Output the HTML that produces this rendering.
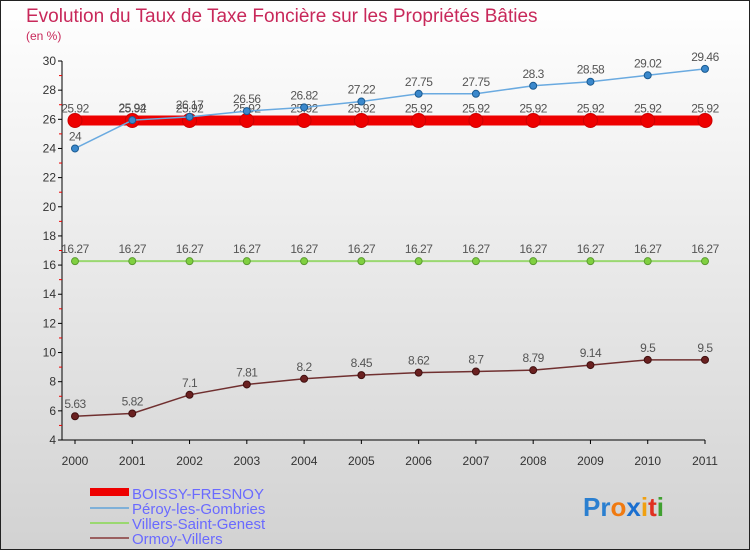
<!DOCTYPE html>
<html><head><meta charset="utf-8"><style>
body{margin:0}
#c{width:750px;height:550px;position:relative;overflow:hidden;font-family:"Liberation Sans",sans-serif}
</style></head><body>
<div id="c">
<svg id="s" width="750" height="550" xmlns="http://www.w3.org/2000/svg">
<defs><linearGradient id="bg" x1="0" y1="0" x2="0" y2="1"><stop offset="0" stop-color="#ffffff"/><stop offset="1" stop-color="#d2d2d2"/></linearGradient></defs>
<rect x="0.5" y="0.5" width="749" height="549" fill="url(#bg)" stroke="#222"/>
<text x="26" y="22" font-size="19" fill="#c8285a">Evolution du Taux de Taxe Foncière sur les Propriétés Bâties</text>
<text x="26" y="40" font-size="12" fill="#c8285a">(en %)</text>
<g id="axes"></g><g id="series"></g>
<g>
<rect x="90" y="488" width="39" height="8" fill="#e00"/>
<text x="132" y="499" font-size="15" fill="#6a6aff">BOISSY-FRESNOY</text>
<line x1="90" y1="508" x2="129" y2="508" stroke="#7fb0d8" stroke-width="2"/>
<text x="132" y="514" font-size="15" fill="#6a6aff">Péroy-les-Gombries</text>
<line x1="90" y1="523" x2="129" y2="523" stroke="#9ad870" stroke-width="2"/>
<text x="132" y="529" font-size="15" fill="#6a6aff">Villers-Saint-Genest</text>
<line x1="90" y1="538" x2="129" y2="538" stroke="#9a6060" stroke-width="2"/>
<text x="132" y="544" font-size="15" fill="#6a6aff">Ormoy-Villers</text>
</g>
<text x="583" y="516" font-size="26" font-weight="bold"><tspan fill="#2a7fd0">Pr</tspan><tspan fill="#f07a10">o</tspan><tspan fill="#1a6fd0">x</tspan><tspan fill="#f0a010">i</tspan><tspan fill="#e03020">t</tspan><tspan fill="#40a030">i</tspan></text>
</svg>
</div>
<script>
const years=[2000,2001,2002,2003,2004,2005,2006,2007,2008,2009,2010,2011];
const boissy=[25.92,25.92,25.92,25.92,25.92,25.92,25.92,25.92,25.92,25.92,25.92,25.92];
const peroy=[24,25.94,26.17,26.56,26.82,27.22,27.75,27.75,28.3,28.58,29.02,29.46];
const villers=[16.27,16.27,16.27,16.27,16.27,16.27,16.27,16.27,16.27,16.27,16.27,16.27];
const ormoy=[5.63,5.82,7.1,7.81,8.2,8.45,8.62,8.7,8.79,9.14,9.5,9.5];
const yTicks=[4,6,8,10,12,14,16,18,20,22,24,26,28,30];
const NS="http://www.w3.org/2000/svg";
const x=i=>75+i*(630/11);
const y=v=>440-(v-4)*(379/26);
function mk(tag,attrs,parent){const e=document.createElementNS(NS,tag);for(const k in attrs)e.setAttribute(k,attrs[k]);parent.appendChild(e);return e;}
const ax=document.getElementById('axes');
let a=mk('line',{x1:62,y1:y(30),x2:62,y2:440,stroke:'#000'},ax);


a=mk('line',{x1:62,y1:440,x2:705,y2:440,stroke:'#000'},ax);


yTicks.forEach(t=>{
 mk('line',{x1:58,y1:y(t),x2:62,y2:y(t),stroke:'#000'},ax);
 if(t<30){mk('line',{x1:59,y1:y(t+1),x2:62,y2:y(t+1),stroke:'#e00'},ax);}
 const l=mk('text',{x:56,y:y(t)+4,'font-size':12,fill:'#333','text-anchor':'end'},ax);l.textContent=t;
 
 
});
years.forEach((yr,i)=>{
 mk('line',{x1:x(i),y1:440,x2:x(i),y2:444,stroke:'#000'},ax);
 const l=mk('text',{x:x(i),y:465,'font-size':12,fill:'#333','text-anchor':'middle'},ax);l.textContent=yr;
 
 
});
const sg=document.getElementById('series');
function series(name,data,color,w,r,fill,stroke){
 const g=mk('g',{},sg);
 
 
 const p=mk('polyline',{points:data.map((v,i)=>x(i)+','+y(v)).join(' '),fill:'none',stroke:color,'stroke-width':w},g);
 
 
 data.forEach((v,i)=>{
  const c=mk('circle',{cx:x(i),cy:y(v),r:r,fill:fill,stroke:stroke,'stroke-width':1},g);
  
  
  const t=mk('text',{x:x(i),y:y(v)-8,'font-size':12,fill:'#555','text-anchor':'middle','letter-spacing':'-0.5'},g);
  t.textContent=v;
  
  
 });
}
series('villers',villers,'#9ad870',2,3.5,'#80d040','#5a9a30');
series('ormoy',ormoy,'#703030',1.5,3.5,'#6a2020','#401010');
series('boissy',boissy,'#e00',10,7,'#e00','#c00');
series('peroy',peroy,'#6aaae0',1.5,3.5,'#3a88cc','#1a5a90');
</script>
</body></html>
